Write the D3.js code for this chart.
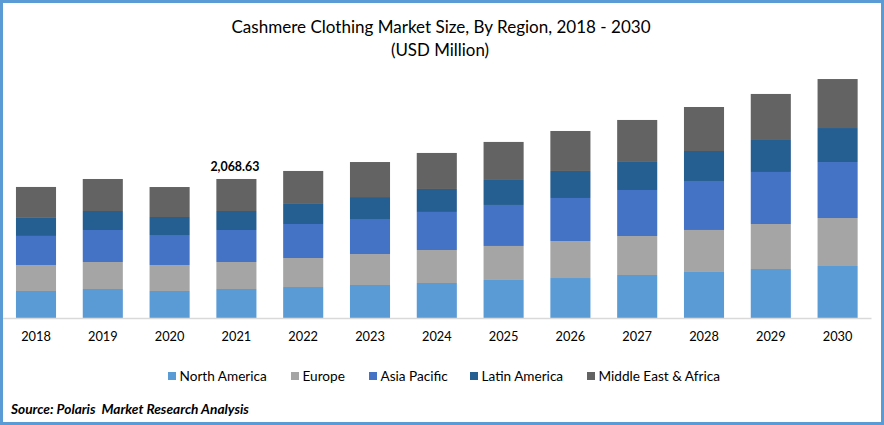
<!DOCTYPE html>
<html><head><meta charset="utf-8">
<script src="https://cdn.jsdelivr.net/npm/d3@7"></script>
<style>
html,body{margin:0;padding:0;background:#fff;overflow:hidden}
svg{display:block}
text{font-family:Lato,"Open Sans",sans-serif;fill:#000}
</style></head><body>
<svg id="c" width="884" height="425"></svg>
<script>
const years = ["2018","2019","2020","2021","2022","2023","2024","2025","2026","2027","2028","2029","2030"];
const regions = ["North America","Europe","Asia Pacific","Latin America","Middle East & Africa"];
const colors = ["#5b9bd5","#a5a5a5","#4472c4","#255e91","#636363"];
const northAmerica = [402,431.58,402,431.58,461,491,521,566,595,640,685,729,774];
const europe       = [387,401.82,387,401.82,432,461,491,506,551,580,625,670,714];
const asiaPacific  = [432,476.23,446,476.23,506,521,566,610,640,685,729,774,833];
const latinAmerica = [268,282.76,268,282.76,298,327,342,372,402,417,446,476,506];
const middleEast   = [461,476.24,446,476.24,491,521,536,566,595,625,655,685,729];
const seriesValues = [northAmerica,europe,asiaPacific,latinAmerica,middleEast];
const labelYear = "2021";
const labelText = "2,068.63";

const svg = d3.select("#c");
const W = 884, H = 425;

svg.append("rect").attr("x",1.5).attr("y",1.5).attr("width",W-3).attr("height",H-3)
  .attr("fill","#fff").attr("stroke","#5b9bd5").attr("stroke-width",3);

const x = d3.scaleBand().domain(years).range([2.6,871]).paddingInner(0.4).paddingOuter(0.2);
const y = d3.scaleLinear().domain([0,4000]).range([318,49.2]);

const rows = years.map((yr,i)=>{
  const o = {year:yr};
  regions.forEach((r,j)=>o[r]=seriesValues[j][i]);
  return o;
});
const stacked = d3.stack().keys(regions)(rows);

svg.append("g").selectAll("g").data(stacked).join("g")
  .attr("fill",(d,i)=>colors[i])
  .selectAll("rect").data(d=>d).join("rect")
  .attr("x",d=>x(d.data.year))
  .attr("width",x.bandwidth())
  .attr("y",d=>y(d[1]))
  .attr("height",d=>y(d[0])-y(d[1]));

const axis = svg.append("g").attr("transform","translate(0,318)")
  .call(d3.axisBottom(x).tickSize(0).tickPadding(14));
axis.select(".domain").attr("stroke","#d9d9d9").attr("stroke-width",1.3);
axis.selectAll("text").attr("font-size",12.8).style("font-family","Lato").attr("fill","#000");

const top2021 = d3.sum(seriesValues,s=>s[years.indexOf(labelYear)]);
svg.append("text").attr("x",x(labelYear)+x.bandwidth()/2-1.5).attr("y",y(top2021)-8)
  .attr("text-anchor","middle").attr("font-size",12.4).attr("font-weight",700).text(labelText);

svg.append("text").attr("x",441).attr("y",33).attr("text-anchor","middle").attr("font-size",17.05)
  .text("Cashmere Clothing Market Size, By Region, 2018 - 2030");
svg.append("text").attr("x",440).attr("y",56).attr("text-anchor","middle").attr("font-size",16.9)
  .text("(USD Million)");

const legendX = [168,291,369,470,587];
const legend = svg.append("g").selectAll("g").data(regions).join("g")
  .attr("transform",(d,i)=>`translate(${legendX[i]},372)`);
legend.append("rect").attr("width",8).attr("height",8).attr("fill",(d,i)=>colors[i]);
legend.append("text").attr("x",11.5).attr("y",8.5).attr("font-size",13.6).text(d=>d);

svg.append("text").attr("x",11).attr("y",414).attr("font-size",13.7).attr("font-weight",700)
  .attr("font-style","italic").text("Source: Polaris  Market Research Analysis").style("white-space","pre");
</script>
</body></html>
